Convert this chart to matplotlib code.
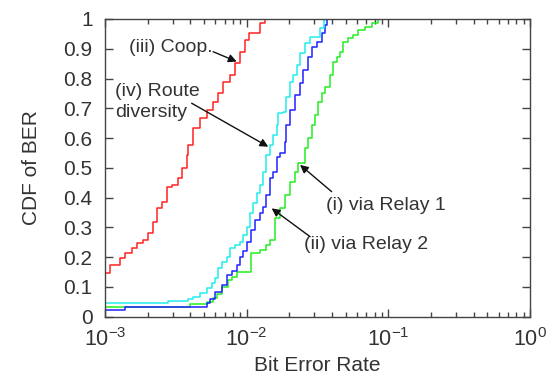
import matplotlib
matplotlib.use("Agg")
import matplotlib.pyplot as plt
from matplotlib.ticker import LogLocator, NullFormatter, FixedLocator

plt.rcParams['font.family'] = ['Liberation Sans', 'DejaVu Sans']
plt.rcParams['mathtext.fontset'] = 'custom'
plt.rcParams['mathtext.rm'] = 'Liberation Sans'
plt.rcParams['mathtext.it'] = 'Liberation Sans:italic'

# CDF curves (BER, CDF value), drawn as post-steps
coop_ber = [1.0e-3, 1.08e-3, 1.28e-3, 1.38e-3, 1.54e-3, 1.67e-3, 1.86e-3, 2.02e-3, 2.19e-3,
            2.32e-3, 2.51e-3, 2.72e-3, 2.96e-3, 3.29e-3, 3.48e-3, 3.77e-3, 3.87e-3, 4.20e-3,
            4.68e-3, 5.22e-3, 5.81e-3, 6.31e-3, 6.84e-3, 7.62e-3, 8.27e-3, 8.97e-3, 9.73e-3,
            1.03e-2, 1.18e-2, 1.24e-2, 1.35e-2]
coop_cdf = [0.146, 0.174, 0.196, 0.213, 0.230, 0.246, 0.258, 0.280, 0.319,
            0.364, 0.386, 0.437, 0.442, 0.465, 0.498, 0.543, 0.577, 0.633,
            0.666, 0.694, 0.722, 0.750, 0.790, 0.812, 0.851, 0.890, 0.930,
            0.952, 0.952, 0.986, 1.0]

route_ber = [1.0e-3, 2.80e-3, 3.87e-3, 4.20e-3, 4.68e-3, 5.22e-3, 5.66e-3, 5.97e-3, 6.31e-3,
             6.67e-3, 7.23e-3, 7.62e-3, 8.27e-3, 8.97e-3, 9.46e-3, 1.00e-2, 1.06e-2, 1.11e-2,
             1.18e-2, 1.24e-2, 1.31e-2, 1.38e-2, 1.46e-2, 1.54e-2, 1.63e-2, 1.67e-2, 1.81e-2,
             1.91e-2, 2.02e-2, 2.13e-2, 2.25e-2, 2.38e-2, 2.58e-2, 2.80e-2, 3.29e-2, 3.50e-2,
             3.60e-2]
route_cdf = [0.045, 0.053, 0.060, 0.067, 0.079, 0.095, 0.112, 0.129, 0.163,
             0.185, 0.200, 0.230, 0.241, 0.252, 0.274, 0.302, 0.347, 0.381,
             0.415, 0.442, 0.487, 0.543, 0.577, 0.610, 0.644, 0.683, 0.689,
             0.739, 0.789, 0.812, 0.845, 0.885, 0.918, 0.941, 0.969, 0.997,
             1.0]

relay2_ber = [1.0e-3, 1.38e-3, 5.22e-3, 5.51e-3, 5.97e-3, 6.67e-3, 7.23e-3, 7.83e-3, 8.50e-3,
              8.97e-3, 9.46e-3, 1.00e-2, 1.08e-2, 1.15e-2, 1.24e-2, 1.31e-2, 1.38e-2, 1.46e-2,
              1.54e-2, 1.63e-2, 1.72e-2, 1.87e-2, 1.91e-2, 2.02e-2, 2.19e-2, 2.38e-2, 2.51e-2,
              2.72e-2, 2.88e-2, 3.12e-2, 3.38e-2, 3.57e-2, 3.69e-2]
relay2_cdf = [0.021, 0.034, 0.045, 0.060, 0.084, 0.106, 0.140, 0.155, 0.175,
              0.200, 0.222, 0.250, 0.291, 0.325, 0.347, 0.369, 0.409, 0.465,
              0.487, 0.537, 0.549, 0.588, 0.644, 0.694, 0.745, 0.784, 0.829,
              0.873, 0.907, 0.924, 0.952, 0.980, 1.0]

relay1_ber = [1.0e-3, 3.96e-3, 5.22e-3, 5.81e-3, 6.20e-3, 6.67e-3, 7.41e-3, 7.83e-3, 8.50e-3,
              1.08e-2, 1.24e-2, 1.38e-2, 1.46e-2, 1.58e-2, 1.72e-2, 1.87e-2, 2.02e-2, 2.19e-2,
              2.31e-2, 2.58e-2, 2.72e-2, 2.88e-2, 3.03e-2, 3.20e-2, 3.38e-2, 3.57e-2, 3.87e-2,
              4.08e-2, 4.31e-2, 4.55e-2, 4.80e-2, 5.21e-2, 5.65e-2, 6.13e-2, 6.84e-2, 7.62e-2,
              8.49e-2]
relay1_cdf = [0.034, 0.042, 0.050, 0.062, 0.075, 0.100, 0.123, 0.134, 0.151,
              0.213, 0.224, 0.241, 0.258, 0.330, 0.364, 0.409, 0.453, 0.487,
              0.515, 0.566, 0.599, 0.644, 0.678, 0.722, 0.750, 0.773, 0.812,
              0.857, 0.873, 0.890, 0.924, 0.935, 0.946, 0.963, 0.974, 0.986,
              1.0]

y_ticks = [0, 0.1, 0.2, 0.3, 0.4, 0.5, 0.6, 0.7, 0.8, 0.9, 1]
y_labels = ['0', '0.1', '0.2', '0.3', '0.4', '0.5', '0.6', '0.7', '0.8', '0.9', '1']

text_col = '#333333'
spine_col = '#444444'

fig = plt.figure(figsize=(5.49, 3.83), dpi=100)
ax = fig.add_axes([0.1913, 0.1731, 0.7741, 0.7773])

ax.step(relay1_ber, relay1_cdf, where='post', color='#22ee22', lw=1.1)
ax.step(relay2_ber, relay2_cdf, where='post', color='#2222ff', lw=1.1)
ax.step(route_ber, route_cdf, where='post', color='#22eeee', lw=1.1)
ax.step(coop_ber, coop_cdf, where='post', color='#ff2222', lw=1.1)

ax.set_xscale('log')
ax.set_xlim(1e-3, 1)
ax.set_ylim(0, 1)
ax.xaxis.set_major_locator(LogLocator(base=10, numticks=10))
ax.xaxis.set_minor_locator(LogLocator(base=10, subs=range(2, 10), numticks=10))
ax.xaxis.set_minor_formatter(NullFormatter())
ax.yaxis.set_major_locator(FixedLocator(y_ticks))
ax.set_yticklabels(y_labels)

for s in ax.spines.values():
    s.set_color(spine_col)
    s.set_linewidth(1.0)
ax.tick_params(which='both', direction='in', top=True, right=True,
               colors=spine_col, labelcolor=text_col, labelsize=15)
ax.tick_params(which='major', length=6, width=1.0)
ax.tick_params(which='minor', length=3.5, width=1.0)
ax.tick_params(axis='x', which='major', pad=8, labelsize=15.5)
ax.tick_params(axis='y', which='major', pad=9)

ax.set_xlabel('Bit Error Rate', fontsize=15, color=text_col, labelpad=4)
ax.set_ylabel('CDF of BER', fontsize=15, color=text_col, labelpad=16)

arrow = dict(arrowstyle='-|>', color='#111111', lw=1.0, mutation_scale=12, shrinkA=0, shrinkB=0)

ax.text(2.92e-3, 0.905, '(iii) Coop.', fontsize=14, color=text_col, ha='center', va='center')
ax.annotate('', xy=(8.5e-3, 0.857), xytext=(5.8e-3, 0.89), arrowprops=arrow)

ax.text(1.18e-3, 0.722, '(iv) Route\ndiversity', fontsize=14, color=text_col,
        ha='left', va='center', linespacing=1.3)
ax.annotate('', xy=(1.42e-2, 0.571), xytext=(4.09e-3, 0.717), arrowprops=arrow)

ax.text(9.6e-2, 0.375, '(i) via Relay 1', fontsize=14, color=text_col, ha='center', va='center')
ax.annotate('', xy=(2.38e-2, 0.51), xytext=(3.98e-2, 0.42), arrowprops=arrow)

ax.text(6.95e-2, 0.241, '(ii) via Relay 2', fontsize=14, color=text_col, ha='center', va='center')
ax.annotate('', xy=(1.5e-2, 0.364), xytext=(2.8e-2, 0.269), arrowprops=arrow)

fig.savefig('out.png', dpi=100)
